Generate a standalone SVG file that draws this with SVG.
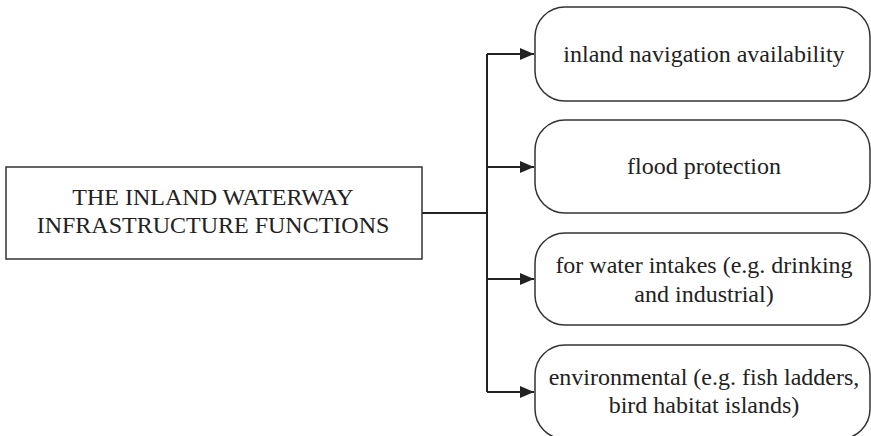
<svg xmlns="http://www.w3.org/2000/svg" width="871" height="436" viewBox="0 0 871 436">
<defs>
<style>
.box{fill:#fff;stroke:#333;stroke-width:1.5}
.c{fill:none;stroke:#222;stroke-width:2}
</style>
<marker id="ah" viewBox="0 0 14 12" refX="14" refY="6" markerWidth="14" markerHeight="12" markerUnits="userSpaceOnUse" orient="auto">
<path d="M0,0 L14,6 L0,12 z" fill="#222"/>
</marker>
</defs>
<rect width="871" height="436" fill="#fff"/>
<g id="connectors">
<path class="c" d="M422,213 H487"/>
<path class="c" d="M487,54 V392"/>
<path class="c" d="M487,54 H534" marker-end="url(#ah)"/>
<path class="c" d="M487,167 H534" marker-end="url(#ah)"/>
<path class="c" d="M487,279 H534" marker-end="url(#ah)"/>
<path class="c" d="M487,392 H534" marker-end="url(#ah)"/>
</g>
<g font-family="Liberation Serif" font-size="24" fill="#222" text-anchor="middle">
<g id="main">
<rect class="box" x="6" y="167" width="416" height="92"/>
<text x="213" y="205">THE INLAND WATERWAY</text>
<text x="213" y="233">INFRASTRUCTURE FUNCTIONS</text>
</g>
<g id="n1">
<rect class="box" x="535" y="7" width="335" height="94" rx="30"/>
<text x="704" y="62">inland navigation availability</text>
</g>
<g id="n2">
<rect class="box" x="535" y="120" width="335" height="93" rx="30"/>
<text x="704" y="174">flood protection</text>
</g>
<g id="n3">
<rect class="box" x="535" y="233" width="335" height="92" rx="30"/>
<text x="704" y="273">for water intakes (e.g. drinking</text>
<text x="704" y="302">and industrial)</text>
</g>
<g id="n4">
<rect class="box" x="535" y="345" width="335" height="94" rx="30"/>
<text x="704" y="385">environmental (e.g. fish ladders,</text>
<text x="704" y="413">bird habitat islands)</text>
</g>
</g>
</svg>
